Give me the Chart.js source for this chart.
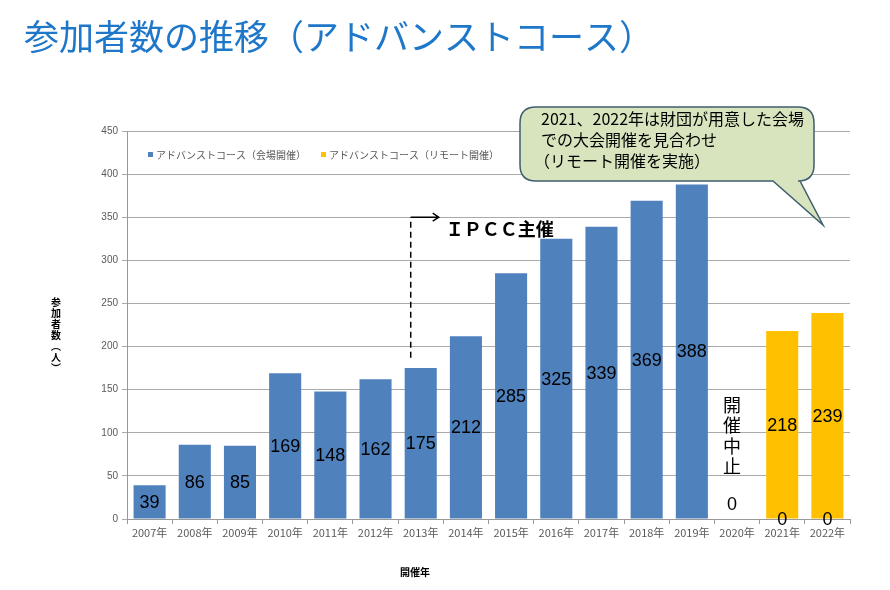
<!DOCTYPE html>
<html>
<head>
<meta charset="utf-8">
<script src="https://cdn.jsdelivr.net/npm/chart.js@4.4.1/dist/chart.umd.min.js"></script>
<style>
  body { margin: 0; background: #fff; }
  canvas { display: block; }
</style>
</head>
<body>
<canvas id="chart" width="890" height="590"></canvas>
<script>
// data
var years = ["2007年", "2008年", "2009年", "2010年", "2011年", "2012年", "2013年", "2014年",
             "2015年", "2016年", "2017年", "2018年", "2019年", "2020年", "2021年", "2022年"];
var venueCounts = [39, 86, 85, 169, 148, 162, 175, 212, 285, 325, 339, 369, 388, null, 0, 0];
var remoteCounts = [null, null, null, null, null, null, null, null, null, null, null, null, null, null, 218, 239];
var seriesNames = ["アドバンストコース（会場開催）", "アドバンストコース（リモート開催）"];
var yMax = 450;
var yStep = 50;
var calloutLines = ["2021、2022年は財団が用意した会場", "での大会開催を見合わせ", "（リモート開催を実施）"];

var BLUE = '#4F81BD';
var YELLOW = '#FFC000';
var JP = "'Noto Sans CJK JP', sans-serif";
var LATIN = "'Liberation Sans', 'Noto Sans CJK JP', sans-serif";

Chart.defaults.font.family = LATIN;

var slidePlugin = {
    id: 'slide',
    afterDatasetsDraw: function (chart) {
        var ctx = chart.ctx;
        ctx.save();
        ctx.fillStyle = '#000';
        ctx.font = '18px ' + LATIN;
        ctx.textAlign = 'center';
        ctx.textBaseline = 'middle';
        chart.data.datasets.forEach(function (ds, i) {
            var meta = chart.getDatasetMeta(i);
            meta.data.forEach(function (bar, j) {
                var v = ds.data[j];
                if (v === null) return;
                ctx.fillText(String(v), bar.x, (bar.y + bar.base) / 2 + 1);
            });
        });
        ctx.restore();
    },
    afterDraw: function (chart) {
        var ctx = chart.ctx;
        var x = chart.scales.x, y = chart.scales.y;
        ctx.save();

        // title
        ctx.fillStyle = '#1E77C9';
        ctx.font = '35px ' + JP;
        ctx.textAlign = 'left';
        ctx.textBaseline = 'middle';
        ctx.fillText('参加者数の推移（アドバンストコース）', 24, 37);

        // legend
        ctx.font = '10px ' + JP;
        ctx.fillStyle = BLUE;
        ctx.fillRect(148, 152, 5, 5);
        ctx.fillStyle = '#595959';
        ctx.fillText(seriesNames[0], 156, 155);
        ctx.fillStyle = YELLOW;
        ctx.fillRect(321, 152, 5, 5);
        ctx.fillStyle = '#595959';
        ctx.fillText(seriesNames[1], 329, 155);

        // axis titles
        ctx.fillStyle = '#000';
        ctx.font = 'bold 10px ' + JP;
        ctx.textAlign = 'center';
        ctx.fillText('開催年', 415, 572);
        var vt = ['参', '加', '者', '数', '︵', '人', '︶'];
        vt.forEach(function (c, k) {
            ctx.fillText(c, 56, 302 + k * 11);
        });

        // IPCC marker
        var lx = x.getPixelForValue(6) - 10;
        var ly = y.getPixelForValue(350);
        ctx.strokeStyle = '#000';
        ctx.lineWidth = 1.5;
        ctx.setLineDash([6, 4]);
        ctx.beginPath();
        ctx.moveTo(lx, y.getPixelForValue(187));
        ctx.lineTo(lx, ly);
        ctx.stroke();
        ctx.setLineDash([]);
        ctx.beginPath();
        ctx.moveTo(lx, ly);
        ctx.lineTo(lx + 28, ly);
        ctx.moveTo(lx + 22, ly - 4);
        ctx.lineTo(lx + 28, ly);
        ctx.lineTo(lx + 22, ly + 4);
        ctx.stroke();
        ctx.font = 'bold 18px ' + JP;
        ctx.textAlign = 'left';
        ctx.fillText('ＩＰＣＣ主催', lx + 35, ly + 12);

        // 2020 note
        var cx = x.getPixelForValue(13) - 5;
        ctx.font = '18px ' + JP;
        ctx.textAlign = 'center';
        ['開', '催', '中', '止'].forEach(function (c, k) {
            ctx.fillText(c, cx, 405 + k * 20.5);
        });
        ctx.font = '18px ' + LATIN;
        ctx.fillText('0', cx, y.getPixelForValue(16));

        // callout bubble
        var bx = 520, by = 107, bw = 294, bh = 74, r = 16;
        ctx.beginPath();
        ctx.moveTo(bx + r, by);
        ctx.lineTo(bx + bw - r, by);
        ctx.quadraticCurveTo(bx + bw, by, bx + bw, by + r);
        ctx.lineTo(bx + bw, by + bh - r);
        ctx.quadraticCurveTo(bx + bw, by + bh, bx + bw - r, by + bh);
        ctx.lineTo(800, by + bh);
        ctx.lineTo(823, 225);
        ctx.lineTo(773, by + bh);
        ctx.lineTo(bx + r, by + bh);
        ctx.quadraticCurveTo(bx, by + bh, bx, by + bh - r);
        ctx.lineTo(bx, by + r);
        ctx.quadraticCurveTo(bx, by, bx + r, by);
        ctx.closePath();
        ctx.fillStyle = '#D7E4BD';
        ctx.fill();
        ctx.strokeStyle = '#3F5E6E';
        ctx.lineWidth = 1.5;
        ctx.stroke();
        ctx.fillStyle = '#000';
        ctx.font = '16px ' + JP;
        ctx.textAlign = 'left';
        calloutLines.forEach(function (t, k) {
            // full-width paren has wide left bearing, pull the last line in
            ctx.fillText(t, k === 2 ? 534 : 541, 119 + k * 21);
        });

        ctx.restore();
    }
};

new Chart(document.getElementById('chart').getContext('2d'), {
    type: 'bar',
    data: {
        labels: years,
        datasets: [{
            label: seriesNames[0],
            data: venueCounts,
            backgroundColor: BLUE,
            barPercentage: 0.71,
            categoryPercentage: 1
        }, {
            label: seriesNames[1],
            data: remoteCounts,
            backgroundColor: YELLOW,
            barPercentage: 0.71,
            categoryPercentage: 1
        }]
    },
    options: {
        responsive: false,
        animation: false,
        layout: { padding: { left: 87, top: 131, right: 40, bottom: 31 } },
        plugins: { legend: { display: false }, tooltip: { enabled: false } },
        scales: {
            x: {
                stacked: true,
                grid: { drawOnChartArea: false, color: '#999', tickLength: 5 },
                border: { color: '#999' },
                ticks: { color: '#595959', font: { size: 11, family: JP }, maxRotation: 0, padding: 2 },
                afterFit: function (s) { s.height = 40; }
            },
            y: {
                stacked: true,
                min: 0,
                max: yMax,
                grid: { color: '#AAAAAA', tickLength: 5 },
                border: { color: '#999' },
                ticks: { stepSize: yStep, color: '#595959', font: { size: 10 }, padding: 4 },
                afterFit: function (s) { s.width = 40; }
            }
        }
    },
    plugins: [slidePlugin]
});
</script>
</body>
</html>
